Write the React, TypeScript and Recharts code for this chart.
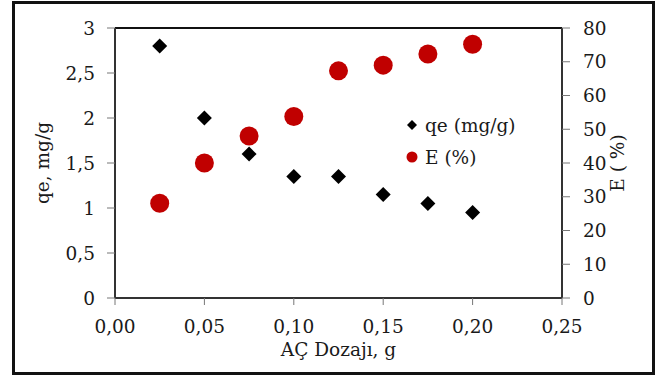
import {
  ScatterChart,
  Scatter,
  XAxis,
  YAxis,
  Legend,
  ReferenceLine,
} from 'recharts'

// AÇ dozajı (g)
const doses = [0.025, 0.05, 0.075, 0.1, 0.125, 0.15, 0.175, 0.2]
// qe (mg/g)
const qeValues = [2.8, 2.0, 1.6, 1.35, 1.35, 1.15, 1.05, 0.95]
// E (%)
const eValues = [28.1, 40, 48, 53.8, 67.3, 69, 72.3, 75.2]

const xTicks = [0, 0.05, 0.1, 0.15, 0.2, 0.25]
const qeTicks = [0, 0.5, 1, 1.5, 2, 2.5, 3]
const eTicks = [0, 10, 20, 30, 40, 50, 60, 70, 80]

const FONT = '"DejaVu Serif", serif'
const FS = 18.5
const TEXT = '#1a1a1a'
const RED = '#C00000'

const qeData = doses.map((x, i) => ({ x, y: qeValues[i] }))
const eData = doses.map((x, i) => ({ x, y: eValues[i] }))

const comma = (v: number, digits?: number) =>
  (digits !== undefined ? v.toFixed(digits) : String(v)).replace('.', ',')

const tickStyle = { fontFamily: FONT, fontSize: FS, fill: TEXT }

function Diamond(props: { cx?: number; cy?: number }) {
  const { cx = 0, cy = 0 } = props
  const r = 7.5
  return (
    <polygon
      points={`${cx},${cy - r} ${cx + r},${cy} ${cx},${cy + r} ${cx - r},${cy}`}
      fill="#000"
    />
  )
}

function Dot(props: { cx?: number; cy?: number }) {
  const { cx = 0, cy = 0 } = props
  return <circle cx={cx} cy={cy} r={9.5} fill={RED} />
}

function LegendBox() {
  const row = {
    display: 'flex',
    alignItems: 'center',
    height: 32,
    fontFamily: FONT,
    fontSize: FS,
    color: TEXT,
    whiteSpace: 'nowrap' as const,
  }
  return (
    <div>
      <div style={row}>
        <svg width={16} height={16} style={{ marginRight: 5 }}>
          <polygon points="8,3 13,8 8,13 3,8" fill="#000" />
        </svg>
        qe (mg/g)
      </div>
      <div style={row}>
        <svg width={16} height={16} style={{ marginRight: 5 }}>
          <circle cx={8} cy={8} r={5.5} fill={RED} />
        </svg>
        E (%)
      </div>
    </div>
  )
}

export default function App() {
  return (
    <div
      style={{
        position: 'absolute',
        left: 0,
        top: 0,
        width: 660,
        height: 376,
        background: '#fff',
        fontFamily: FONT,
      }}
    >
      <div
        style={{
          position: 'absolute',
          left: 12,
          top: 1,
          width: 643,
          height: 374,
          border: '3px solid #111',
          boxSizing: 'border-box',
        }}
      />
      <ScatterChart
        width={660}
        height={376}
        margin={{ top: 28, right: 0, left: 0, bottom: 0 }}
      >
        <XAxis
          type="number"
          dataKey="x"
          domain={[0, 0.25]}
          ticks={xTicks}
          tickFormatter={(v) => comma(v, 2)}
          tick={tickStyle}
          tickSize={7}
          tickMargin={15}
          height={78}
          axisLine={{ stroke: '#333', strokeWidth: 2 }}
          tickLine={{ stroke: '#777' }}
          label={{
            value: 'AÇ Dozajı, g',
            position: 'insideBottom',
            offset: 20,
            style: { fontFamily: FONT, fontSize: FS, fill: TEXT },
          }}
        />
        <YAxis
          yAxisId="left"
          type="number"
          dataKey="y"
          domain={[0, 3]}
          ticks={qeTicks}
          tickFormatter={(v) => comma(v)}
          tick={tickStyle}
          tickSize={8}
          tickMargin={12}
          width={115}
          axisLine={{ stroke: '#333', strokeWidth: 2 }}
          tickLine={{ stroke: '#777' }}
          label={{
            value: 'qe, mg/g',
            angle: -90,
            position: 'insideLeft',
            offset: 42,
            style: { fontFamily: FONT, fontSize: FS, fill: TEXT, textAnchor: 'middle' },
          }}
        />
        <YAxis
          yAxisId="right"
          orientation="right"
          type="number"
          dataKey="y"
          domain={[0, 80]}
          ticks={eTicks}
          tick={tickStyle}
          tickSize={8}
          tickMargin={13}
          width={98}
          axisLine={{ stroke: '#333', strokeWidth: 2 }}
          tickLine={{ stroke: '#777' }}
          label={{
            value: 'E ( %)',
            angle: -90,
            position: 'insideRight',
            offset: 43,
            style: { fontFamily: FONT, fontSize: FS, fill: TEXT, textAnchor: 'middle' },
          }}
        />
        <ReferenceLine yAxisId="left" y={3} stroke="#111" strokeWidth={2} />
        <Legend
          layout="vertical"
          align="center"
          verticalAlign="middle"
          content={() => <LegendBox />}
          wrapperStyle={{ left: 404, top: 109, width: 130 }}
        />
        <Scatter
          name="qe (mg/g)"
          data={qeData}
          yAxisId="left"
          shape={<Diamond />}
          isAnimationActive={false}
        />
        <Scatter
          name="E (%)"
          data={eData}
          yAxisId="right"
          shape={<Dot />}
          isAnimationActive={false}
        />
      </ScatterChart>
    </div>
  )
}
